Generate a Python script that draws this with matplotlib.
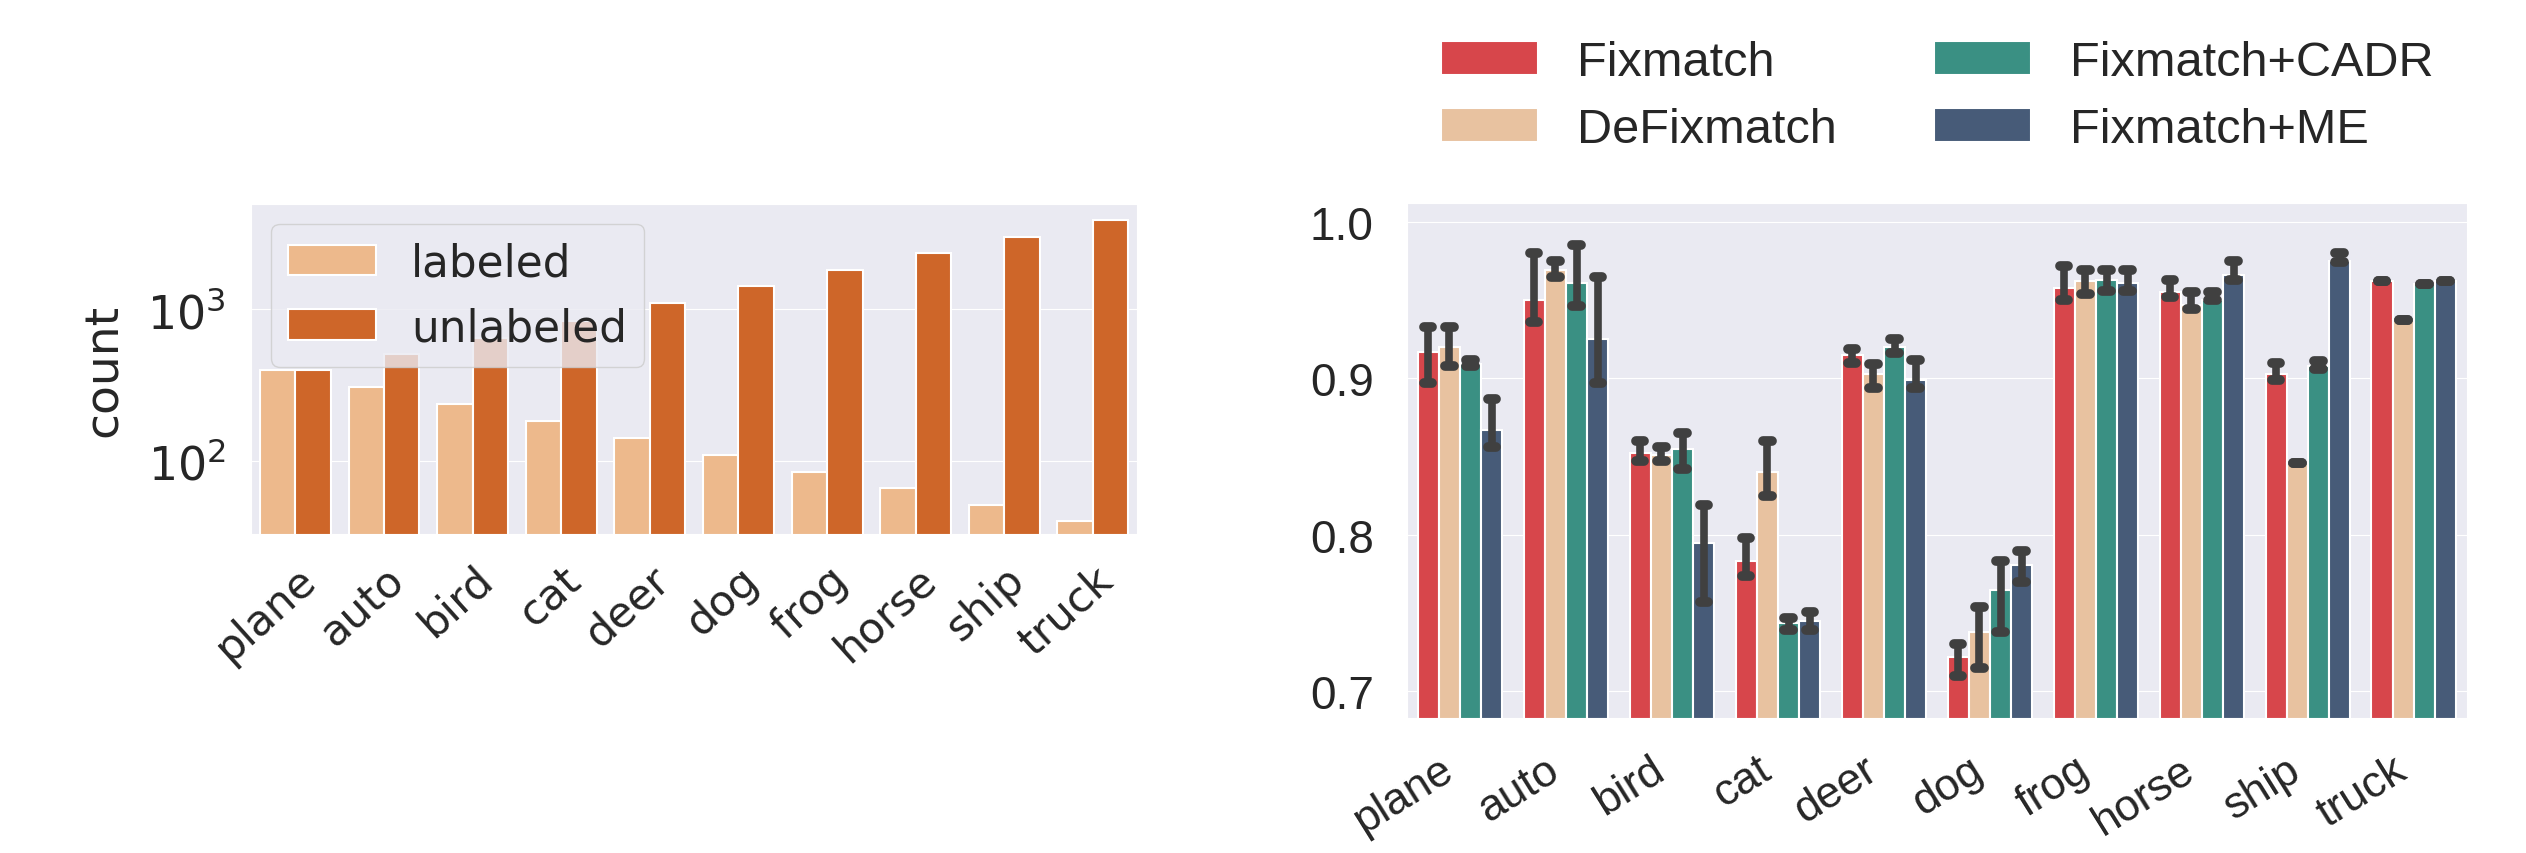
import numpy as np
import matplotlib
matplotlib.use("Agg")
import matplotlib.pyplot as plt
import seaborn as sns

classes = ["plane", "auto", "bird", "cat", "deer", "dog", "frog", "horse", "ship", "truck"]

# per-class sample counts (long-tailed split)
labeled = [400, 309, 238, 184, 142, 110, 85, 66, 51, 40]
unlabeled = [400, 510, 650, 840, 1090, 1410, 1820, 2340, 3000, 3880]

# per-class accuracy: bar height, error bar low / high
methods = ["Fixmatch", "DeFixmatch", "Fixmatch+CADR", "Fixmatch+ME"]
acc_fix = [0.917, 0.950, 0.852, 0.783, 0.915, 0.722, 0.958, 0.955, 0.903, 0.962]
acc_defix = [0.920, 0.969, 0.851, 0.840, 0.903, 0.738, 0.962, 0.947, 0.846, 0.937]
acc_cadr = [0.909, 0.961, 0.855, 0.744, 0.920, 0.765, 0.963, 0.950, 0.908, 0.960]
acc_me = [0.867, 0.925, 0.795, 0.745, 0.899, 0.781, 0.961, 0.966, 0.975, 0.962]

lo_fix = [0.897, 0.936, 0.847, 0.774, 0.910, 0.710, 0.950, 0.952, 0.899, 0.962]
hi_fix = [0.933, 0.980, 0.860, 0.798, 0.919, 0.730, 0.972, 0.963, 0.910, 0.962]
lo_defix = [0.908, 0.965, 0.847, 0.825, 0.894, 0.715, 0.954, 0.944, 0.846, 0.937]
hi_defix = [0.933, 0.975, 0.856, 0.860, 0.909, 0.754, 0.969, 0.955, 0.846, 0.937]
lo_cadr = [0.908, 0.946, 0.842, 0.739, 0.916, 0.738, 0.956, 0.950, 0.906, 0.960]
hi_cadr = [0.912, 0.985, 0.865, 0.747, 0.925, 0.783, 0.969, 0.955, 0.911, 0.960]
lo_me = [0.856, 0.897, 0.757, 0.739, 0.894, 0.770, 0.956, 0.963, 0.974, 0.962]
hi_me = [0.887, 0.965, 0.819, 0.751, 0.912, 0.790, 0.969, 0.975, 0.980, 0.962]

sns.set_style("darkgrid")
plt.rcParams["text.color"] = ".15"

fig = plt.figure(figsize=(25.26, 8.54), dpi=100)

# ---- left: class counts, log scale ----
ax1 = fig.add_axes([0.0994, 0.3735, 0.3508, 0.3864])
x = np.arange(len(classes))
w = 0.4
ax1.bar(x - w / 2, labeled, w, color="#edb98c", edgecolor="white", linewidth=1.5, label="labeled")
ax1.bar(x + w / 2, unlabeled, w, color="#ce6629", edgecolor="white", linewidth=1.5, label="unlabeled")
ax1.set_yscale("log")
ax1.set_ylim(33, 4920)
ax1.set_xlim(-0.5, len(classes) - 0.5)
ax1.xaxis.grid(False)
ax1.set_xticks(x)
ax1.set_xticklabels(classes, fontsize=31, rotation=42, ha="right", rotation_mode="anchor",
                    family="DejaVu Sans")
ax1.tick_params(axis="x", pad=17, length=0)
ax1.tick_params(axis="y", labelsize=33, pad=18, length=0, which="both")
ax1.yaxis.set_minor_locator(matplotlib.ticker.NullLocator())
ax1.set_ylabel("count", fontsize=34)
ax1.yaxis.set_label_coords(-0.14, 0.5)
ax1.legend(loc="upper left", fontsize=31.5, borderaxespad=0.45, framealpha=0.8)

# ---- right: per-class accuracy ----
ax2 = fig.add_axes([0.557, 0.1581, 0.4196, 0.603])
colors = ["#d7464b", "#e8c2a0", "#3a9083", "#475b78"]
accs = [acc_fix, acc_defix, acc_cadr, acc_me]
los = [lo_fix, lo_defix, lo_cadr, lo_me]
his = [hi_fix, hi_defix, hi_cadr, hi_me]
bw = 0.2
for i, (name, c, a, lo, hi) in enumerate(zip(methods, colors, accs, los, his)):
    pos = x - 0.3 + i * bw
    ax2.bar(pos, a, bw, color=c, edgecolor="white", linewidth=1.5, label=name)
    ax2.vlines(pos, lo, hi, color="#404040", linewidth=5.5, zorder=3)
    for yy in (lo, hi):
        ax2.hlines(yy, pos - 0.04, pos + 0.04, color="#404040", linewidth=7,
                   capstyle="round", zorder=3)
ax2.set_ylim(0.683, 1.012)
ax2.set_xlim(-0.5, len(classes) - 0.5)
ax2.xaxis.grid(False)
ax2.set_yticks([0.7, 0.8, 0.9, 1.0])
ax2.set_xticks(x)
ax2.set_xticklabels(classes, fontsize=32, rotation=32, ha="right", family="Liberation Sans")
for t in ax2.get_yticklabels():
    t.set_family("Liberation Sans")
ax2.tick_params(axis="x", pad=22, length=0)
ax2.tick_params(axis="y", labelsize=33, pad=24, length=0)
ax2.legend(loc="lower center", bbox_to_anchor=(0.5, 1.015), ncol=2, frameon=False,
           prop={"family": "Liberation Sans", "size": 35}, columnspacing=2.0,
           labelspacing=0.45)

fig.savefig("out.png", dpi=100)
